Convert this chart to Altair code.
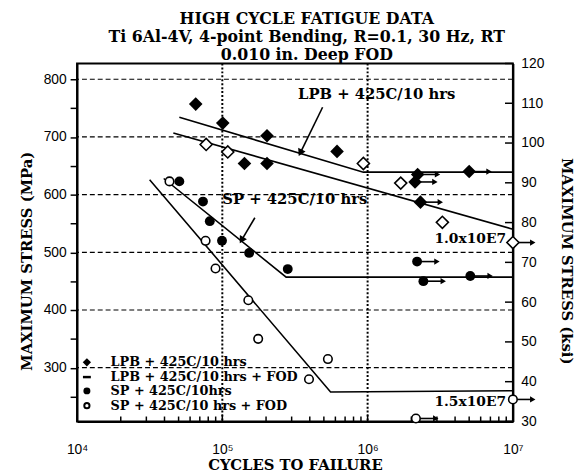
import altair as alt
import pandas as pd

KSI = 6.894757  # MPa per ksi

# ---- data (cycles to failure, max stress in MPa) ----
lpb_cycles = [65600, 100700, 142000, 203000, 203000, 616000, 2120000, 2210000, 2310000, 5000000]
lpb_mpa = [757, 724, 654, 702, 654, 675, 622, 635, 587, 640]
lpb_runout = [0, 0, 0, 0, 0, 0, 1, 1, 1, 1]

lpbfod_cycles = [77400, 109000, 935000, 1690000, 3270000, 10000000]
lpbfod_mpa = [687, 674, 654, 620, 552, 517]
lpbfod_runout = [0, 0, 0, 0, 0, 1]

sp_cycles = [50600, 73600, 82000, 99500, 153000, 282000, 2190000, 2420000, 5090000]
sp_mpa = [623, 588, 554, 520, 499, 471, 484, 450, 459]
sp_runout = [0, 0, 0, 0, 0, 0, 1, 1, 1]

spfod_cycles = [43300, 76700, 89800, 151000, 176500, 395000, 533000, 2150000, 10000000]
spfod_mpa = [623, 520, 472, 417, 350, 280, 315, 212, 245]
spfod_runout = [0, 0, 0, 0, 0, 0, 0, 1, 1]

# trend lines
line_series = ["LPB", "LPB", "LPB", "LPBFOD", "LPBFOD", "SP", "SP", "SP", "SPFOD", "SPFOD", "SPFOD"]
line_cycles = [50600, 935000, 1e7, 46000, 1e7, 39500, 275000, 1e7, 31600, 556000, 1e7]
line_mpa = [734, 639, 639, 707, 540, 628, 457, 457, 626, 258, 260]

# annotations
ann_left_text = ["LPB + 425C/10 hrs", "SP + 425C/10 hrs"]
ann_left_cycles = [332000, 100000]
ann_left_mpa = [774, 592]
ann_right_text = ["1.0x10E7", "1.5x10E7"]
ann_right_cycles = [1e7, 1e7]
ann_right_mpa = [523, 240]

ptr_x0 = [490000, 167500]
ptr_y0 = [751.5, 560]
ptr_x1 = [347000, 137000]
ptr_y1 = [674.3, 522.8]
ptr_angle = [206, 211]

legend_labels = ["LPB + 425C/10 hrs", "LPB + 425C/10 hrs + FOD",
                 "SP + 425C/10hrs", "SP + 425C/10 hrs + FOD"]

title_lines = ["HIGH CYCLE FATIGUE DATA",
               "Ti 6Al-4V,  4-point Bending,  R=0.1,  30 Hz,  RT",
               "0.010 in.  Deep FOD"]

grid_mpa = [300, 400, 500, 600, 700, 800]
grid_cycles = [1e5, 1e6]
major_x_ticks = [1e4, 1e5, 1e6, 1e7]
minor_x_ticks = [k * 10 ** d for d in (4, 5, 6) for k in range(2, 10)]
left_ticks = [250, 300, 350, 400, 450, 500, 550, 600, 650, 700, 750, 800]
ksi_ticks = [30, 40, 50, 60, 70, 80, 90, 100, 110, 120]

RUNOUT = 1.37
SERIF = "DejaVu Serif"
SANS = "Liberation Sans"

W, H = 442, 363

xs = alt.Scale(type="log", domain=[1e4, 1e7], nice=False)
ys = alt.Scale(domain=[30 * KSI, 120 * KSI], nice=False, zero=False)

x_axis = alt.Axis(values=major_x_ticks, tickSize=0, grid=False, labelPadding=21,
                  labelExpr="'10' + ['⁰','¹','²','³','⁴','⁵','⁶','⁷','⁸','⁹'][round(log(datum.value)/LN10)]",
                  labelFont=SANS, labelFontSize=14, labelFlush=False,
                  title="CYCLES TO FAILURE", titleFont=SERIF, titleFontSize=15,
                  titleFontWeight="bold", titlePadding=2)
y_axis = alt.Axis(values=left_ticks, tickSize=7, tickWidth=1.5, grid=False, labelPadding=4,
                  labelExpr="datum.value % 100 === 0 ? datum.label : ''",
                  labelFont=SANS, labelFontSize=14,
                  title="MAXIMUM  STRESS  (MPa)", titleFont=SERIF, titleFontSize=15,
                  titleFontWeight="bold", titlePadding=9, titleY=200)


def ex(f):
    return alt.X(f"{f}:Q", scale=xs, axis=x_axis)


def ey(f):
    return alt.Y(f"{f}:Q", scale=ys, axis=y_axis)


def pts(cyc, mpa, ro):
    df = pd.DataFrame({"cycles": cyc, "mpa": mpa, "runout": ro})
    df["xend"] = df["cycles"] * RUNOUT
    return df


d_lpb = pts(lpb_cycles, lpb_mpa, lpb_runout)
d_lpbf = pts(lpbfod_cycles, lpbfod_mpa, lpbfod_runout)
d_sp = pts(sp_cycles, sp_mpa, sp_runout)
d_spf = pts(spfod_cycles, spfod_mpa, spfod_runout)
d_all = pd.concat([d_lpb, d_lpbf, d_sp, d_spf])
d_run = d_all[d_all["runout"] == 1]

layers = []

# gridlines
layers.append(alt.Chart(pd.DataFrame({"g": grid_mpa})).mark_rule(
    color="black", strokeWidth=1.2, strokeDash=[5, 3]).encode(y=ey("g")))
layers.append(alt.Chart(pd.DataFrame({"c": grid_cycles})).mark_rule(
    color="black", strokeWidth=2, strokeDash=[2, 2]).encode(x=ex("c")))

# inward bottom ticks
layers.append(alt.Chart(pd.DataFrame({"t": major_x_ticks})).mark_rule(
    color="black", strokeWidth=1.5).encode(x=ex("t"), y=alt.value(H), y2=alt.value(H - 7)))
layers.append(alt.Chart(pd.DataFrame({"t": minor_x_ticks})).mark_rule(
    color="black", strokeWidth=1.5).encode(x=ex("t"), y=alt.value(H), y2=alt.value(H - 5)))

# trend lines
d_lines = pd.DataFrame({"s": line_series, "cycles": line_cycles, "mpa": line_mpa,
                        "o": list(range(len(line_series)))})
layers.append(alt.Chart(d_lines).mark_line(color="black", strokeWidth=1.6).encode(
    x=ex("cycles"), y=ey("mpa"), detail="s:N", order="o:Q"))

# runout arrows
layers.append(alt.Chart(d_run).mark_rule(color="black", strokeWidth=1.6).encode(
    x=ex("cycles"), x2="xend:Q", y=ey("mpa")))
layers.append(alt.Chart(d_run).mark_point(shape="triangle-right", filled=True, color="black",
                                          size=40, opacity=1).encode(x=ex("xend"), y=ey("mpa")))

# data points
layers.append(alt.Chart(d_lpb).mark_point(shape="diamond", filled=True, color="black",
                                          size=190, opacity=1).encode(x=ex("cycles"), y=ey("mpa")))
layers.append(alt.Chart(d_lpbf).mark_point(shape="diamond", filled=True, fill="white", stroke="black",
                                           strokeWidth=1.6, size=150, opacity=1).encode(
    x=ex("cycles"), y=ey("mpa")))
layers.append(alt.Chart(d_sp).mark_point(shape="circle", filled=True, color="black",
                                         size=100, opacity=1).encode(x=ex("cycles"), y=ey("mpa")))
layers.append(alt.Chart(d_spf).mark_point(shape="circle", filled=True, fill="white", stroke="black",
                                          strokeWidth=1.6, size=75, opacity=1).encode(
    x=ex("cycles"), y=ey("mpa")))

# pointer arrows
d_ptr = pd.DataFrame({"x0": ptr_x0, "y0": ptr_y0, "x1": ptr_x1, "y1": ptr_y1, "a": ptr_angle})
layers.append(alt.Chart(d_ptr).mark_rule(color="black", strokeWidth=1.6).encode(
    x=ex("x0"), y=ey("y0"), x2="x1:Q", y2="y1:Q"))
layers.append(alt.Chart(d_ptr).mark_point(shape="triangle", filled=True, color="black",
                                          size=70, opacity=1).encode(
    x=ex("x1"), y=ey("y1"), angle=alt.Angle("a:Q", scale=None)))

# annotations
layers.append(alt.Chart(pd.DataFrame({"t": ann_left_text, "cycles": ann_left_cycles,
                                      "mpa": ann_left_mpa})).mark_text(
    align="left", baseline="middle", font=SERIF, fontWeight="bold", fontSize=15, color="black").encode(
    x=ex("cycles"), y=ey("mpa"), text="t:N"))
layers.append(alt.Chart(pd.DataFrame({"t": ann_right_text, "cycles": ann_right_cycles,
                                      "mpa": ann_right_mpa})).mark_text(
    align="right", baseline="middle", dx=-7, font=SERIF, fontWeight="bold", fontSize=14,
    color="black").encode(x=ex("cycles"), y=ey("mpa"), text="t:N"))

# manual legend (bottom-left inside the plot)
row_y = [303, 318, 332, 347]
sym_x = 10
for i, lab in enumerate(legend_labels):
    dl = pd.DataFrame({"label": [lab]})
    layers.append(alt.Chart(dl).mark_text(align="left", baseline="middle", font=SERIF,
                                          fontWeight="bold", fontSize=13, color="black").encode(
        x=alt.value(34), y=alt.value(row_y[i]), text="label:N"))
    if i == 0:
        layers.append(alt.Chart(dl).mark_point(shape="diamond", filled=True, color="black", size=70,
                                               opacity=1).encode(x=alt.value(sym_x), y=alt.value(row_y[i])))
    elif i == 1:
        layers.append(alt.Chart(dl).mark_rule(color="black", strokeWidth=2.5).encode(
            x=alt.value(sym_x - 4), x2=alt.value(sym_x + 4), y=alt.value(row_y[i])))
    elif i == 2:
        layers.append(alt.Chart(dl).mark_point(shape="circle", filled=True, color="black", size=50,
                                               opacity=1).encode(x=alt.value(sym_x), y=alt.value(row_y[i])))
    else:
        layers.append(alt.Chart(dl).mark_point(shape="circle", filled=True, fill="white", stroke="black",
                                               strokeWidth=2, size=28, opacity=1).encode(
            x=alt.value(sym_x), y=alt.value(row_y[i])))

mpa_layer = alt.layer(*layers)

# right-hand ksi axis with inward ticks
ksi_layer = alt.Chart(pd.DataFrame({"k": ksi_ticks})).mark_rule(color="black", strokeWidth=1.5).encode(
    y=alt.Y("k:Q", scale=alt.Scale(domain=[30, 120], nice=False, zero=False),
            axis=alt.Axis(orient="right", values=ksi_ticks, tickSize=0, grid=False, labelPadding=8,
                          labelFont=SANS, labelFontSize=14,
                          title="MAXIMUM  STRESS  (ksi)", titleFont=SERIF, titleFontSize=15,
                          titleFontWeight="bold", titlePadding=15, titleY=200)),
    x=alt.value(W), x2=alt.value(W - 8))

chart = alt.layer(mpa_layer, ksi_layer).resolve_scale(y="independent").properties(
    width=W, height=H,
    padding={"left": 70, "top": 53, "right": 65, "bottom": 49},
    autosize=alt.AutoSizeParams(type="none"),
    title=alt.TitleParams(
        text=title_lines,
        font=SERIF, fontSize=16, fontWeight="bold", lineHeight=18, anchor="middle", frame="group",
        dx=12, offset=-6, color="black"),
).configure_view(stroke="black", strokeWidth=2).configure_axis(
    domainColor="black", domainWidth=2, tickColor="black", labelColor="black", titleColor="black")

chart.save("out.html", embed_options={"renderer": "svg", "actions": False})
